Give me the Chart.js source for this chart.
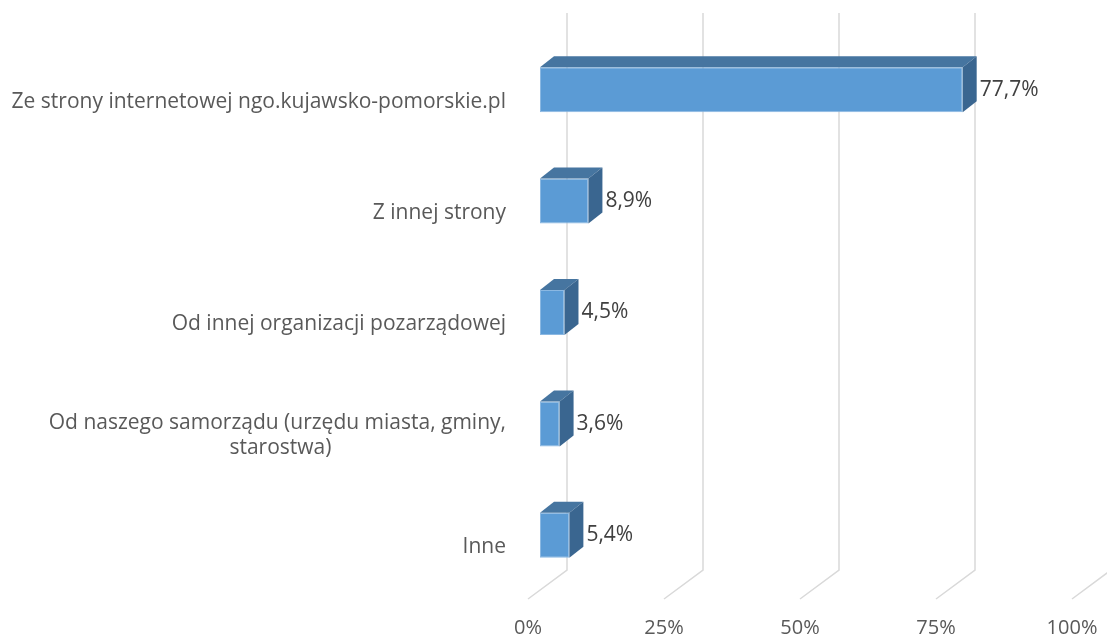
<!DOCTYPE html>
<html>
<head>
<meta charset="utf-8">
<script src="https://cdn.jsdelivr.net/npm/chart.js@4"></script>
<style>
  body { margin: 0; background: #fff; }
  #wrap { width: 1107px; height: 639px; }
</style>
</head>
<body>
<div id="wrap"><canvas id="myChart" width="1107" height="639"></canvas></div>
<script>
// data
const categories = [
  'Ze strony internetowej ngo.kujawsko-pomorskie.pl',
  'Z innej strony',
  'Od innej organizacji pozarządowej',
  ['Od naszego samorządu (urzędu miasta, gminy,', 'starostwa)'],
  'Inne'
];
const values = [77.7, 8.9, 4.5, 3.6, 5.4];
const tickValues = [0, 25, 50, 75, 100];

const FONT = "'Open Sans', 'Liberation Sans', sans-serif";
const FONT_SIZE = 20;
const LABEL_SIZE = 21;
const DX = 14, DY = -11;          // bar depth
const WALL_DX = 27, FLOOR_DX = -12; // grid wall / floor offsets from the front scale
const WALL_TOP = 13, WALL_BOTTOM = 570, FLOOR_Y = 599;

// multi-line labels: centre the shorter lines under the longest one
// (labels are right aligned, so pad them with trailing spaces)
const mctx = document.createElement('canvas').getContext('2d');
mctx.font = LABEL_SIZE + 'px ' + FONT;
const labels = categories.map(c => {
  if (!Array.isArray(c)) return c;
  const w = Math.max(...c.map(l => mctx.measureText(l).width));
  return c.map(l => {
    let s = l;
    while (mctx.measureText(s + ' ').width - mctx.measureText(l).width <= (w - mctx.measureText(l).width) / 2) s += ' ';
    return s;
  });
});

// 3d grid + bar faces + value labels
const threeD = {
  id: 'threeD',
  beforeDatasetsDraw(chart) {
    const ctx = chart.ctx;
    const x = chart.scales.x;
    ctx.save();
    ctx.strokeStyle = '#d9d9d9';
    ctx.lineWidth = 1.5;
    tickValues.forEach(v => {
      const px = x.getPixelForValue(v);
      ctx.beginPath();
      ctx.moveTo(px + WALL_DX, WALL_TOP);
      ctx.lineTo(px + WALL_DX, WALL_BOTTOM);
      ctx.lineTo(px + FLOOR_DX, FLOOR_Y);
      ctx.stroke();
    });
    ctx.restore();
  },
  afterDatasetsDraw(chart) {
    const ctx = chart.ctx;
    const meta = chart.getDatasetMeta(0);
    ctx.save();
    meta.data.forEach((bar, i) => {
      const p = bar.getProps(['x', 'y', 'base', 'height'], true);
      const top = p.y - p.height / 2, bottom = p.y + p.height / 2;
      const left = p.base, right = p.x;
      // top face
      ctx.fillStyle = '#4675a0';
      ctx.beginPath();
      ctx.moveTo(left, top);
      ctx.lineTo(left + DX, top + DY);
      ctx.lineTo(right + DX, top + DY);
      ctx.lineTo(right, top);
      ctx.closePath();
      ctx.fill();
      // side face
      ctx.fillStyle = '#3a6690';
      ctx.beginPath();
      ctx.moveTo(right, top);
      ctx.lineTo(right + DX, top + DY);
      ctx.lineTo(right + DX, bottom + DY);
      ctx.lineTo(right, bottom);
      ctx.closePath();
      ctx.fill();
      // value label
      ctx.fillStyle = '#404040';
      ctx.font = LABEL_SIZE + 'px ' + FONT;
      ctx.textAlign = 'left';
      ctx.textBaseline = 'middle';
      ctx.fillText(values[i].toFixed(1).replace('.', ',') + '%', right + DX + 3, p.y);
    });
    ctx.restore();
  }
};

new Chart(document.getElementById('myChart'), {
  type: 'bar',
  data: {
    labels: labels,
    datasets: [{
      data: values,
      backgroundColor: '#5b9bd5',
      borderColor: '#8bb8e2',
      borderWidth: 1,
      borderSkipped: false,
      categoryPercentage: 1,
      barPercentage: 0.404
    }]
  },
  plugins: [threeD],
  options: {
    indexAxis: 'y',
    responsive: false,
    animation: false,
    layout: { padding: { top: 34, right: 23, left: 0, bottom: 0 } },
    scales: {
      x: {
        min: 0,
        max: 100,
        afterBuildTicks(s) { s.ticks = tickValues.map(v => ({ value: v })); },
        afterFit(s) { s.height = 48; s.paddingLeft = 0; s.paddingRight = 0; },
        grid: { display: false },
        border: { display: false },
        ticks: {
          padding: 17,
          labelOffset: FLOOR_DX,
          color: '#595959',
          font: { family: FONT, size: FONT_SIZE },
          callback: v => v + '%'
        }
      },
      y: {
        afterFit(s) { s.width = 540; s.paddingTop = 0; s.paddingBottom = 0; },
        grid: { display: false },
        border: { display: false },
        ticks: {
          padding: 26,
          labelOffset: 12,
          color: '#595959',
          font: { family: FONT, size: LABEL_SIZE, lineHeight: 1.2 }
        }
      }
    },
    plugins: {
      legend: { display: false },
      tooltip: { enabled: false }
    }
  }
});
</script>
</body>
</html>
